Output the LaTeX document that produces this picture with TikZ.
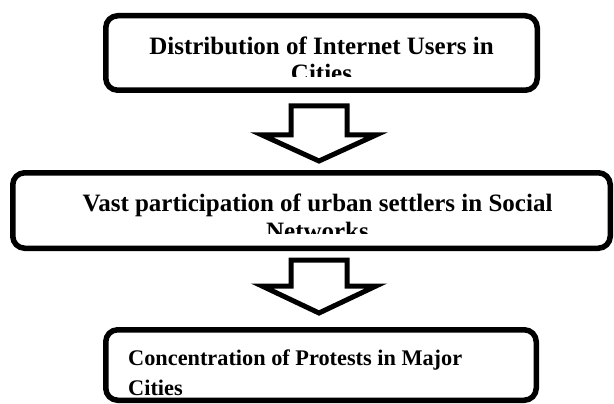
\documentclass[tikz,border=0pt]{standalone}
\usepackage{fontspec}
\setmainfont{Liberation Serif}
\usetikzlibrary{calc}
\tikzset{
  flowbox/.style={draw=black, line width=5.5pt, rounded corners=12pt, inner sep=0pt, fill=white},
  bigtext/.style={inner sep=0pt, anchor=base, font=\bfseries\fontsize{25}{28}\selectfont},
  smalltext/.style={inner sep=0pt, anchor=base west, font=\bfseries\fontsize{22.3}{26}\selectfont},
  blockarrow/.style={draw=black, line width=5pt, line join=miter, miter limit=10, fill=white}
}
\begin{document}
\begin{tikzpicture}[x=1pt,y=-1pt]
\useasboundingbox (0,0) rectangle (614,404);
% boxes
\node[flowbox, minimum width=431.5pt, minimum height=74.5pt] (b1) at (321.5,53) {};
\node[flowbox, minimum width=597.5pt, minimum height=75.5pt] (b2) at (311.5,210.5) {};
\node[flowbox, minimum width=430.5pt, minimum height=70.5pt] (b3) at (321,365) {};
% texts box 1
\node[bigtext] (t1a) at (321.5,54.6) {Distribution of Internet Users in};
\begin{scope}
\clip (100,0) rectangle (545,77);
\node[bigtext] (t1b) at (321.5,82) {Cities};
\end{scope}
% texts box 2
\node[bigtext] (t2a) at (317.5,211.5) {Vast participation of urban settlers in Social};
\begin{scope}
\clip (0,160) rectangle (614,233.5);
\node[bigtext] (t2b) at (317.5,239.5) {Networks};
\end{scope}
% texts box 3
\node[smalltext] (t3a) at (128,365) {Concentration of Protests in Major};
\node[smalltext] (t3b) at (128,395) {Cities};
% block arrows
\coordinate (a1) at (319,106);
\coordinate (a2) at (319,260);
\draw[blockarrow] ($(a1)+(-28,0)$) -- ($(a1)+(28,0)$) -- ($(a1)+(28,29)$) -- ($(a1)+(57,29)$)
  -- ($(a1)+(0,55)$) -- ($(a1)+(-57,29)$) -- ($(a1)+(-28,29)$) -- cycle;
\draw[blockarrow] ($(a2)+(-28,0)$) -- ($(a2)+(28,0)$) -- ($(a2)+(28,26)$) -- ($(a2)+(57,26)$)
  -- ($(a2)+(0,53)$) -- ($(a2)+(-57,26)$) -- ($(a2)+(-28,26)$) -- cycle;
\end{tikzpicture}
\end{document}
